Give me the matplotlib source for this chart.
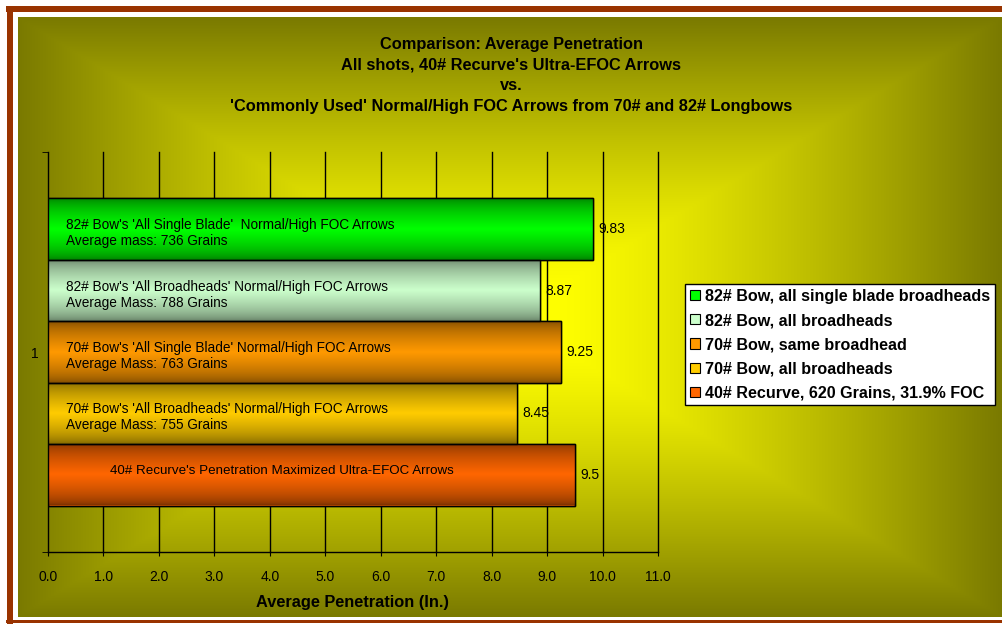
import numpy as np
import matplotlib
matplotlib.use('Agg')
import matplotlib.pyplot as plt
from matplotlib.patches import Rectangle, Patch
from matplotlib.colors import to_rgb

plt.rcParams['font.family'] = ['Liberation Sans', 'DejaVu Sans']

# data
values = [9.83, 8.87, 9.25, 8.45, 9.5]
bar_text = [
    "82# Bow's 'All Single Blade'  Normal/High FOC Arrows\nAverage mass: 736 Grains",
    "82# Bow's 'All Broadheads' Normal/High FOC Arrows\nAverage Mass: 788 Grains",
    "70# Bow's 'All Single Blade' Normal/High FOC Arrows\nAverage Mass: 763 Grains",
    "70# Bow's 'All Broadheads' Normal/High FOC Arrows\nAverage Mass: 755 Grains",
    "40# Recurve's Penetration Maximized Ultra-EFOC Arrows",
]
legend_labels = [
    "82# Bow, all single blade broadheads",
    "82# Bow, all broadheads",
    "70# Bow, same broadhead",
    "70# Bow, all broadheads",
    "40# Recurve, 620 Grains, 31.9% FOC",
]
bar_colors = ['#00ff00', '#ccffcc', '#ff9900', '#ffcc00', '#ff6600']
xticks = np.arange(0, 12)
category = ['1']

W, H = 1002, 624
fig = plt.figure(figsize=(W / 100, H / 100), dpi=100)
fig.patch.set_facecolor('white')

# background: frame + "from centre" gradient
bg = fig.add_axes([0, 0, 1, 1], zorder=0)
bg.set_xlim(0, W)
bg.set_ylim(H, 0)
bg.axis('off')
x0, x1, y0, y1 = 18, 1002, 17, 617
xx, yy = np.meshgrid(np.linspace(x0, x1, 400), np.linspace(y0, y1, 250))
cx, cy = (x0 + x1) / 2, (y0 + y1) / 2
v = np.maximum(np.abs(xx - cx) / ((x1 - x0) / 2), np.abs(yy - cy) / ((y1 - y0) / 2))
v = np.clip((v - 0.08) / 0.92, 0, 1) ** 1.3
edge = np.array([0x7a, 0x7a, 0x00]) / 255
mid = np.array([1.0, 1.0, 0.0])
grad = mid[None, None, :] * (1 - v[..., None]) + edge[None, None, :] * v[..., None]
bg.imshow(grad, extent=[x0, x1, y1, y0], aspect='auto', interpolation='bilinear')
brown = '#993300'
bg.add_patch(Rectangle((6, 6), W - 6, 6, color=brown, lw=0))
bg.add_patch(Rectangle((7, 6), 6, H - 6, color=brown, lw=0))
bg.add_patch(Rectangle((6, 620), W - 6, 2.5, color=brown, lw=0))

# plot area
ax = fig.add_axes([48 / W, 1 - 552 / H, 610 / W, 400 / H], zorder=1)
ax.set_facecolor('none')
ax.set_xlim(0, 11)
ax.set_ylim(-0.5, 0.5)

h = 0.1535
ypos = [(2 - i) * h for i in range(len(values))]
bars = ax.barh(ypos, values, height=h, color=bar_colors, edgecolor='black', linewidth=1, zorder=3)

u = np.linspace(0, 1, 200)
t = 1 - np.abs(2 * u - 1)
fac = 0.48 + 0.52 * t ** 0.6
for b, c in zip(bars, bar_colors):
    rgb = np.array(to_rgb(c))
    img = fac[:, None, None] * rgb[None, None, :]
    bx, by = b.get_x(), b.get_y()
    im = ax.imshow(img, extent=[bx, bx + b.get_width(), by, by + b.get_height()],
                   aspect='auto', zorder=3.5, interpolation='bilinear')
    im.set_clip_path(b)
    ax.add_patch(Rectangle((bx, by), b.get_width(), b.get_height(), fill=False,
                           edgecolor='black', lw=1, zorder=4))

for i, (y, val, txt) in enumerate(zip(ypos, values, bar_text)):
    if '\n' in txt:
        ax.text(0.32, y - 0.01, txt, va='center', ha='left', fontsize=9.8,
                linespacing=1.2, zorder=5)
    else:
        ax.text(4.22, y + 0.01, txt, va='center', ha='center', fontsize=9.6, zorder=5)
    ax.text(val + 0.1, y, f'{val:g}', va='center', ha='left', fontsize=10, zorder=5)

for xv in xticks[1:]:
    ax.axvline(xv, color='black', lw=1, zorder=2, clip_on=False)

for s in ['top', 'right']:
    ax.spines[s].set_visible(False)
ax.spines['left'].set_linewidth(1)
ax.spines['bottom'].set_linewidth(1)

ax.set_xticks(xticks)
ax.set_xticklabels([f'{x:.1f}' for x in xticks], fontsize=10)
ax.tick_params(axis='x', direction='out', length=3, pad=10)
ax.set_yticks([0])
ax.set_yticklabels(category, fontsize=10)
ax.tick_params(axis='y', length=0, pad=7)
ax.set_yticks([-0.5, 0.5], minor=True)
ax.tick_params(axis='y', which='minor', direction='out', length=4)
ax.set_xlabel('Average Penetration (In.)', fontsize=11.8, fontweight='bold', labelpad=8)

fig.text(511 / W, 1 - 37 / H,
         "Comparison: Average Penetration\nAll shots, 40# Recurve's Ultra-EFOC Arrows\nvs.\n"
         "'Commonly Used' Normal/High FOC Arrows from 70# and 82# Longbows",
         ha='center', va='top', fontsize=11.8, fontweight='bold', linespacing=1.47, zorder=5)

handles = [Patch(facecolor=c, edgecolor='black', lw=0.8) for c in bar_colors]
leg = fig.legend(handles, legend_labels, loc='upper left',
                 bbox_to_anchor=(685 / W, 1 - 284 / H), prop={'weight': 'bold', 'size': 11.6},
                 frameon=True, fancybox=False, framealpha=1, edgecolor='black',
                 handlelength=0.6, handleheight=0.6, handletextpad=0.35,
                 labelspacing=0.57, borderpad=0.3, borderaxespad=0)
leg.get_frame().set_linewidth(1)
leg.set_zorder(6)

fig.savefig('out.png', dpi=100)
